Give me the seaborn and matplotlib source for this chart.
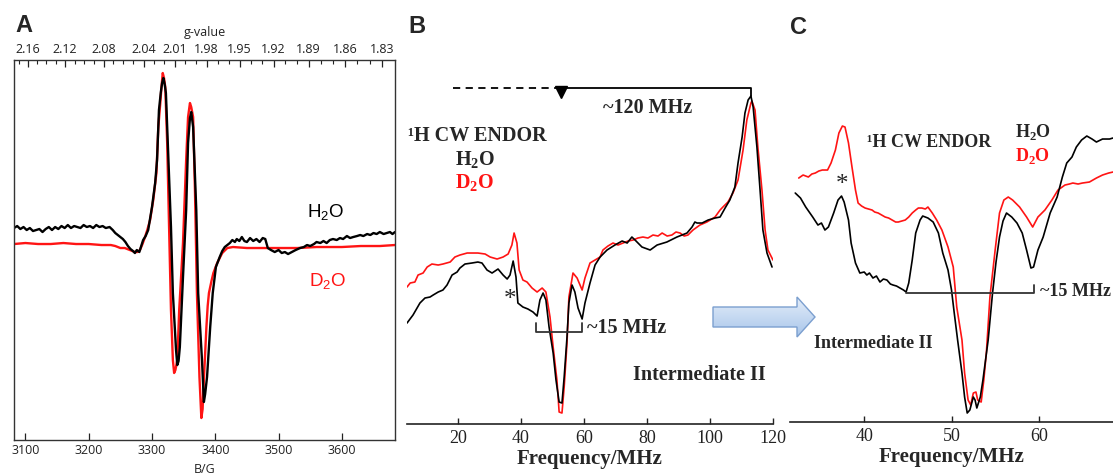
import matplotlib
matplotlib.use("Agg")
import matplotlib.pyplot as plt
import numpy as np
import seaborn as sns
from matplotlib.colors import LinearSegmentedColormap
from matplotlib.patches import Polygon

# ---------------- panel A: X-band EPR (field in G, derivative in a.u.) ----------------
epr_h2o_field = [3082, 3087, 3092, 3097, 3102, 3107, 3112, 3117, 3122, 3127, 3132, 3137, 3142, 3147,
                 3152, 3157, 3162, 3167, 3172, 3177, 3182, 3187, 3192, 3197, 3202, 3207, 3212, 3217,
                 3222, 3227, 3233, 3238, 3242, 3246, 3250, 3254, 3258, 3262, 3266, 3270, 3273, 3276,
                 3280, 3283, 3286, 3290, 3294, 3300, 3305, 3308, 3311, 3314, 3316, 3318, 3320, 3322,
                 3325, 3330, 3333, 3338, 3340, 3342, 3344, 3349, 3354, 3357, 3360, 3362, 3365, 3370,
                 3373, 3379, 3382, 3384, 3387, 3392, 3396, 3401, 3407, 3411, 3415, 3419, 3423, 3427,
                 3431, 3434, 3438, 3442, 3446, 3450, 3455, 3460, 3465, 3470, 3475, 3479, 3483, 3488,
                 3494, 3500, 3505, 3510, 3515, 3521, 3527, 3534, 3540, 3545, 3550, 3556, 3560, 3566,
                 3571, 3576, 3581, 3586, 3592, 3597, 3602, 3608, 3613, 3618, 3624, 3629, 3634, 3640,
                 3645, 3650, 3655, 3660, 3666, 3671, 3676, 3680, 3684]
epr_h2o_signal = [16, 18, 15, 17, 14, 16, 13, 14, 15, 12, 15, 17, 14, 17,
                  15, 18, 16, 19, 16, 18, 17, 16, 19, 17, 18, 16, 19, 17,
                  18, 16, 17, 14, 11, 9, 7, 5, 2, -2, -5, -7, -9, -6,
                  -8, -2, 4, 8, 14, 37, 61, 84, 134, 152, 161, 166, 160, 151,
                  101, 17, -49, -106, -121, -117, -103, -33, 34, 101, 126, 132, 117, 34,
                  -49, -116, -158, -150, -133, -83, -49, -23, -13, -7, -3, -1, 1, 4,
                  2, 5, 3, 7, 3, 2, 6, 3, 5, 2, 6, 5, -4, -6,
                  -8, -6, -9, -8, -10, -8, -6, -4, -3, -1, -2, 0, 2, 1,
                  3, 1, 4, 5, 4, 6, 5, 8, 6, 7, 8, 9, 8, 10,
                  9, 11, 10, 12, 10, 11, 12, 10, 12]

epr_d2o_field = [3082, 3100, 3120, 3140, 3160, 3180, 3200, 3220, 3235, 3242, 3250, 3257, 3265, 3273,
                 3277, 3281, 3285, 3289, 3293, 3297, 3302, 3307, 3310, 3313, 3315, 3317, 3319, 3321,
                 3324, 3327, 3330, 3333, 3335, 3337, 3340, 3343, 3349, 3354, 3357, 3360, 3362, 3365,
                 3368, 3371, 3375, 3378, 3380, 3381, 3386, 3388, 3390, 3394, 3397, 3403, 3411, 3419,
                 3428, 3450, 3480, 3500, 3530, 3560, 3600, 3630, 3660, 3684]
epr_d2o_signal = [0, 1, 0, 0, 1, 0, 0, -1, -1, -2, -4, -4, -6, -8,
                  -8, -6, 0, 7, 15, 24, 44, 71, 117, 140, 157, 171, 166, 157,
                  101, 17, -66, -116, -129, -126, -116, -66, 1, 84, 127, 141, 137, 127,
                  51, -49, -133, -174, -165, -149, -83, -62, -49, -37, -29, -19, -9, -4,
                  -3, -4, -4, -4, -4, -3, -3, -2, -2, -1]

field_ticks = [3100, 3200, 3300, 3400, 3500, 3600]
g_ticks = [2.16, 2.12, 2.08, 2.04, 2.01, 1.98, 1.95, 1.92, 1.89, 1.86, 1.83]
G_TIMES_B = 6705.0  # g * B[G] for the 9.38 GHz microwave frequency

# ---------------- panel B: 1H CW ENDOR, full range ----------------
endor_h2o_freq = [3.8, 5.7, 7.9, 9.5, 11.1, 12.1, 13.7, 15.2, 16.5, 18.1, 19.7, 20.6, 22.2, 24.4,
                  26.3, 27.6, 29.2, 30.8, 32.7, 34.3, 35.6, 36.5, 37.5, 38.4, 39.0, 40.6, 42.2, 43.8,
                  45.1, 46.0, 47.0, 47.9, 48.9, 50.2, 51.1, 52.1, 53.0, 53.7, 54.6, 55.2, 56.2, 57.1,
                  58.1, 59.4, 60.3, 61.9, 63.5, 65.1, 67.3, 69.8, 72.1, 73.7, 75.2, 76.2, 78.4, 81.0,
                  83.2, 86.3, 89.5, 92.7, 94.3, 95.2, 95.9, 97.5, 99.4, 101.6, 103.2, 104.8, 106.3,
                  107.9, 108.9, 110.2, 111.1, 112.1, 113.0, 113.7, 114.9, 115.9, 116.8, 118.1, 119.7]
endor_h2o_signal = [101, 109, 121, 126, 127, 129, 132, 134, 139, 149, 152, 156, 160, 161,
                    162, 161, 154, 151, 155, 149, 145, 149, 163, 147, 121, 117, 115, 112,
                    108, 124, 131, 124, 97, 71, 44, 22, 21, 47, 87, 121, 139, 132,
                    116, 105, 121, 141, 159, 167, 174, 179, 183, 181, 187, 184, 177, 174,
                    179, 182, 187, 191, 197, 202, 201, 201, 204, 206, 207, 216, 224,
                    237, 261, 287, 311, 324, 328, 317, 277, 234, 194, 171, 157]

endor_d2o_freq = [3.8, 4.8, 6.3, 7.3, 8.9, 10.2, 11.7, 13.7, 15.2, 17.5, 19.0, 20.6, 22.9, 24.4,
                  26.3, 28.6, 30.2, 32.4, 34.3, 35.9, 37.1, 37.8, 38.7, 39.4, 40.6, 41.9, 43.5, 45.1,
                  46.7, 47.9, 49.2, 50.2, 51.4, 52.1, 53.0, 53.7, 54.6, 55.2, 56.5, 57.8, 59.4, 60.3,
                  61.9, 63.5, 65.1, 66.0, 67.6, 69.2, 70.8, 72.4, 74.0, 75.6, 77.1, 78.7, 80.3, 81.9,
                  83.5, 84.8, 86.4, 87.9, 89.2, 90.5, 91.8, 93.0, 94.6, 96.8, 99.0, 101.6, 103.2,
                  104.1, 105.7, 107.3, 108.9, 110.5, 111.7, 113.0, 113.3, 114.3, 115.2, 116.5, 117.5,
                  118.4, 120.0]
endor_d2o_signal = [137, 141, 142, 149, 151, 157, 160, 159, 160, 162, 167, 169, 171, 171,
                    171, 170, 167, 165, 167, 170, 179, 191, 181, 154, 144, 142, 136, 132,
                    136, 132, 107, 77, 44, 12, 11, 37, 81, 127, 151, 146, 134, 146,
                    161, 164, 167, 174, 178, 181, 179, 181, 183, 184, 186, 187, 186, 189,
                    188, 191, 188, 189, 192, 191, 188, 189, 194, 199, 202, 207, 214,
                    217, 222, 231, 244, 274, 304, 321, 323, 314, 277, 234, 194,
                    174, 164]

# ---------------- panel C: expanded 31-69 MHz region ----------------
zoom_h2o_freq = [32.1, 32.7, 33.3, 34.1, 34.7, 35.1, 35.5, 35.9, 36.5, 37.0, 37.4, 37.7, 38.2, 38.5,
                 39.0, 39.5, 40.0, 40.3, 40.6, 41.0, 41.4, 41.8, 42.2, 42.6, 43.0, 43.3, 43.7, 44.1,
                 44.5, 44.8, 45.1, 45.5, 45.9, 46.4, 46.7, 47.3, 47.9, 48.5, 49.0, 49.6, 50.0, 50.3,
                 50.7, 51.2, 51.5, 51.8, 52.1, 52.5, 52.7, 52.9, 53.3, 53.6, 54.2, 54.7, 55.1, 55.5,
                 55.9, 56.3, 56.9, 57.5, 58.1, 58.6, 59.1, 59.4, 59.9, 60.5, 61.3, 62.1, 62.7, 63.2,
                 63.8, 64.3, 64.9, 65.5, 66.1, 66.6, 67.3, 68.1, 68.5]
zoom_h2o_signal = [229, 224, 215, 205, 197, 199, 192, 195, 209, 222, 226, 220, 202, 179,
                   159, 149, 150, 147, 149, 144, 146, 140, 143, 142, 138, 137, 136, 134,
                   132, 130, 139, 162, 189, 202, 206, 204, 200, 189, 169, 152, 132, 110,
                   82, 49, 25, 9, 12, 25, 22, 14, 25, 42, 82, 129, 160, 185,
                   201, 209, 205, 199, 189, 172, 154, 155, 172, 185, 209, 225, 245, 259,
                   265, 275, 282, 286, 283, 280, 283, 283, 284]

zoom_d2o_freq = [32.5, 33.0, 33.6, 34.0, 34.4, 34.8, 35.2, 35.8, 36.2, 36.7, 37.1, 37.5, 37.8, 38.2,
                 38.6, 39.0, 39.3, 39.7, 40.1, 40.5, 40.9, 41.2, 41.6, 42.0, 42.4, 42.8, 43.2, 43.6,
                 43.9, 44.3, 44.7, 45.1, 45.5, 45.9, 46.2, 46.6, 47.0, 47.3, 47.8, 48.3, 48.9, 49.6,
                 50.2, 50.6, 51.2, 51.5, 51.9, 52.2, 52.5, 52.8, 53.0, 53.4, 53.7, 54.0, 54.4, 55.0,
                 55.5, 56.0, 56.5, 57.0, 57.8, 58.6, 59.3, 59.9, 60.7, 61.5, 62.2, 63.0, 63.5, 63.9,
                 64.5, 65.0, 65.8, 66.6, 67.3, 68.0, 68.5]
zoom_d2o_signal = [244, 247, 245, 248, 249, 251, 252, 252, 259, 272, 289, 296, 295, 279,
                   255, 232, 219, 216, 214, 213, 212, 210, 209, 207, 205, 204, 202, 200,
                   200, 201, 202, 205, 209, 212, 214, 214, 213, 215, 209, 202, 192, 175,
                   155, 115, 82, 49, 22, 17, 29, 30, 22, 20, 42, 70, 125, 172,
                   209, 222, 225, 222, 215, 205, 195, 205, 212, 222, 232, 237, 238, 239,
                   238, 239, 240, 244, 247, 249, 250]

freq_ticks_b = [20, 40, 60, 80, 100, 120]
freq_ticks_c = [40, 50, 60]
hf_span = (44.8, 59.4)   # ~15 MHz coupling bracket

sns.set_theme(style="ticks")
SANS = ["Open Sans", "DejaVu Sans"]
ARIAL = ["Liberation Sans", "DejaVu Sans"]
SERIF = ["Liberation Serif", "DejaVu Serif"]
plt.rcParams["font.family"] = SERIF
RED = "#ff1414"

fig = plt.figure(figsize=(11.13, 4.76), dpi=100)
ax_a = fig.add_axes([0.0126, 0.0756, 0.3423, 0.7983])
ax_b = fig.add_axes([0.3657, 0.1092, 0.3288, 0.7647])
ax_c = fig.add_axes([0.7098, 0.1134, 0.2902, 0.7605])


def trace(ax, x, y, color, lw):
    sns.lineplot(x=x, y=y, ax=ax, color=color, lw=lw, estimator=None, sort=False)


def g_of_b(v):
    v = np.asarray(v, dtype=float)
    with np.errstate(divide="ignore", invalid="ignore"):
        return G_TIMES_B / v


# ---- A ----
trace(ax_a, epr_d2o_field, epr_d2o_signal, RED, 1.7)
trace(ax_a, epr_h2o_field, epr_h2o_signal, "black", 1.7)
ax_a.set_xlim(3082, 3684)
ax_a.set_ylim(-196, 184)
ax_a.set_yticks([])
ax_a.set_xticks(field_ticks)
ax_a.tick_params(axis="x", direction="in", length=5, width=0.9, pad=3, labelsize=9,
                 colors="#222222")
for lab in ax_a.get_xticklabels():
    lab.set_family(SANS)
for sp in ax_a.spines.values():
    sp.set_color("#333333")
    sp.set_linewidth(1.0)
ax_a.set_xlabel("B/G", family=SANS, fontsize=9, labelpad=4, color="#222222")
ax_a.set_ylabel("")

top = ax_a.secondary_xaxis("top", functions=(g_of_b, g_of_b))
top.set_xticks(g_ticks, labels=[f"{g:.2f}" for g in g_ticks])
top.set_xticks(np.arange(1.82, 2.18, 0.01), minor=True)
top.tick_params(which="major", direction="in", length=5, width=0.9, pad=3, labelsize=9,
                colors="#222222")
top.tick_params(which="minor", direction="in", length=3, width=0.8, colors="#222222")
for lab in top.get_xticklabels():
    lab.set_family(SANS)
top.set_xlabel("g-value", family=SANS, fontsize=9, labelpad=5, color="#222222")
top.spines["top"].set_visible(False)

ax_a.text(3575, 31, r"H$_\mathregular{2}$O", family=ARIAL, fontsize=13.5, ha="center",
          va="center", color="black")
ax_a.text(3577, -38, r"D$_\mathregular{2}$O", family=ARIAL, fontsize=13.5, ha="center",
          va="center", color=RED)


def endor_axes(ax, ticks):
    for side in ("left", "top", "right"):
        ax.spines[side].set_visible(False)
    ax.spines["bottom"].set_color("#222222")
    ax.spines["bottom"].set_linewidth(1.2)
    ax.set_yticks([])
    ax.set_ylabel("")
    ax.set_xticks(ticks)
    ax.tick_params(axis="x", direction="in", length=4, width=1.0, pad=4, labelsize=13,
                   colors="#222222")
    ax.set_xlabel("Frequency/MHz", fontsize=15, fontweight="bold", labelpad=2)


# ---- B ----
trace(ax_b, endor_d2o_freq, endor_d2o_signal, RED, 1.2)
trace(ax_b, endor_h2o_freq, endor_h2o_signal, "black", 1.2)
ax_b.set_xlim(3.8, 120)
ax_b.set_ylim(0, 364)
endor_axes(ax_b, freq_ticks_b)

FS_B = 14.5
ax_b.plot([18.4, 51.4], [336, 336], color="black", lw=1.3, ls=(0, (4, 3)))
ax_b.plot([51.4, 113.0, 113.0], [336, 336, 328], color="black", lw=1.3)
ax_b.plot([52.7], [332], marker="v", ms=9, color="black")
ax_b.text(80.3, 316, "~120 MHz", fontsize=FS_B, fontweight="bold", ha="center", va="center")
ax_b.text(4.1, 288, "\u00b9H CW ENDOR", fontsize=FS_B, fontweight="bold", ha="left", va="center")
ax_b.text(19.0, 264, r"H$_\mathregular{2}$O", fontsize=FS_B, fontweight="bold", ha="left",
          va="center")
ax_b.text(19.0, 241, r"D$_\mathregular{2}$O", fontsize=FS_B, fontweight="bold", ha="left",
          va="center", color=RED)
ax_b.text(36.5, 124, "*", fontsize=18, ha="center", va="center")
ax_b.plot([hf_span[0], hf_span[0], hf_span[1], hf_span[1]], [101, 92, 92, 101],
          color="#333333", lw=1.3)
ax_b.text(61.0, 96, "~15 MHz", fontsize=FS_B, fontweight="bold", ha="left", va="center")
ax_b.text(75.6, 49, "Intermediate II", fontsize=FS_B, fontweight="bold", ha="left", va="center")

# ---- C ----
trace(ax_c, zoom_d2o_freq, zoom_d2o_signal, RED, 1.2)
trace(ax_c, zoom_h2o_freq, zoom_h2o_signal, "black", 1.2)
ax_c.set_xlim(31.5, 68.5)
ax_c.set_ylim(0, 362)
endor_axes(ax_c, freq_ticks_c)

FS_C = 13
ax_c.text(37.5, 237, "*", fontsize=18, ha="center", va="center")
ax_c.text(40.3, 280, "\u00b9H CW ENDOR", fontsize=FS_C, fontweight="bold", ha="left", va="center")
ax_c.text(57.3, 290, r"H$_\mathregular{2}$O", fontsize=FS_C, fontweight="bold", ha="left",
          va="center")
ax_c.text(57.3, 266, r"D$_\mathregular{2}$O", fontsize=FS_C, fontweight="bold", ha="left",
          va="center", color=RED)
ax_c.plot([hf_span[0], hf_span[1], hf_span[1]], [129, 129, 137], color="#333333", lw=1.3)
ax_c.text(60.1, 131, "~15 MHz", fontsize=FS_C, fontweight="bold", ha="left", va="center",
          clip_on=False)
ax_c.text(34.2, 79, "Intermediate II", fontsize=FS_C, fontweight="bold", ha="left", va="center")

# panel letters
fig.text(0.0135, 0.947, "A", family=ARIAL, fontsize=17, fontweight="bold", va="center")
fig.text(0.3666, 0.945, "B", family=ARIAL, fontsize=17, fontweight="bold", va="center")
fig.text(0.7098, 0.943, "C", family=ARIAL, fontsize=17, fontweight="bold", va="center")

# block arrow from B to C (pixel frame overlay)
ov = fig.add_axes([0, 0, 1, 1])
ov.set_xlim(0, 1113)
ov.set_ylim(476, 0)
ov.set_axis_off()
arrow_pts = [(713, 307), (797, 307), (797, 297), (815, 317), (797, 337), (797, 327), (713, 327)]
shape = Polygon(arrow_pts, closed=True, facecolor="none", edgecolor="#7b9fcf", lw=1.0, zorder=3)
ov.add_patch(shape)
shade = LinearSegmentedColormap.from_list("arrow", ["#e3edf9", "#a8c5ea"])
img = ov.imshow(np.linspace(0, 1, 64).reshape(-1, 1), cmap=shade, aspect="auto",
                extent=(713, 815, 337, 297), zorder=2)
img.set_clip_path(shape)

fig.savefig("out.png", dpi=100)
